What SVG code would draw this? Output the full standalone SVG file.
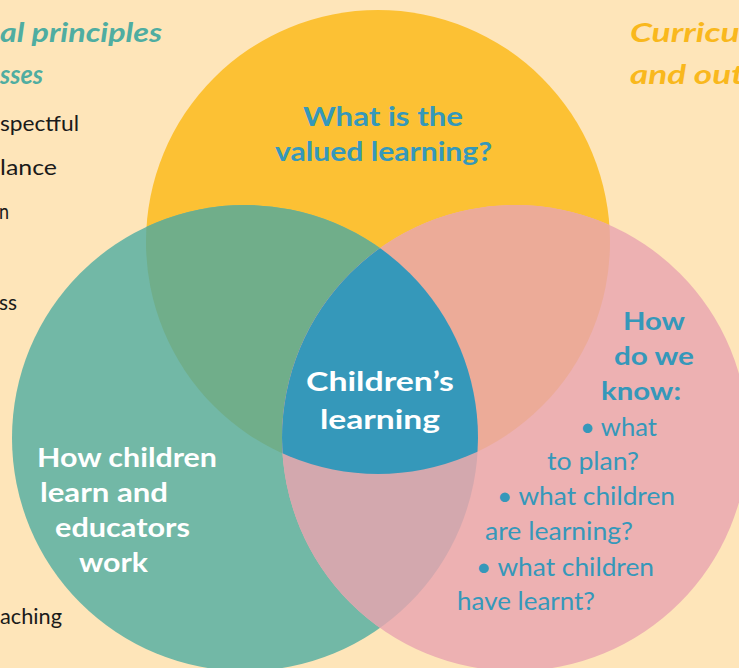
<svg xmlns="http://www.w3.org/2000/svg" width="739" height="668" viewBox="0 0 739 668">
<style>
text{font-family:Lato,"Open Sans","Liberation Sans",sans-serif}
.b{font-weight:700}
.w{fill:#ffffff}
.t{fill:#3598ba}
.k{fill:#1a1a1a;font-size:21px}
.hl{fill:#4fada1;font-style:italic;font-weight:700;font-size:27px}
.hr{fill:#f9b81d;font-style:italic;font-weight:700;font-size:27px}
</style>
<defs>
<clipPath id="cy"><circle cx="378" cy="242" r="232"/></clipPath>
<clipPath id="ct"><circle cx="245" cy="438" r="233"/></clipPath>
</defs>
<rect width="739" height="668" fill="#fee5b9"/>
<g id="side-text">
<text class="hl" x="0" y="42" textLength="162" lengthAdjust="spacingAndGlyphs">al principles</text>
<text class="hl" x="0" y="84" textLength="43" lengthAdjust="spacingAndGlyphs">sses</text>
<text class="k" x="0" y="131" textLength="79" lengthAdjust="spacingAndGlyphs">spectful</text>
<text class="k" x="0" y="175" textLength="57" lengthAdjust="spacingAndGlyphs">lance</text>
<text class="k" x="-1" y="219" textLength="10" lengthAdjust="spacingAndGlyphs">n</text>
<text class="k" x="-1" y="310" textLength="18" lengthAdjust="spacingAndGlyphs">ss</text>
<text class="k" x="0" y="624" textLength="62" lengthAdjust="spacingAndGlyphs">aching</text>
<text class="hr" x="630" y="42" textLength="118" lengthAdjust="spacingAndGlyphs">Curricul</text>
<text class="hr" x="630" y="84" textLength="114" lengthAdjust="spacingAndGlyphs">and out</text>
</g>
<g id="circle-yellow"><circle cx="378" cy="242" r="232" fill="#fcc134"/></g>
<g id="circle-teal"><circle cx="245" cy="438" r="233" fill="#72b8a6"/></g>
<g id="circle-pink"><circle cx="515" cy="438" r="233" fill="#edb1b2"/></g>
<g id="overlaps">
<circle cx="245" cy="438" r="233" fill="#70ae8a" clip-path="url(#cy)"/>
<circle cx="515" cy="438" r="233" fill="#ecab98" clip-path="url(#cy)"/>
<circle cx="515" cy="438" r="233" fill="#d3a8ae" clip-path="url(#ct)"/>
<g clip-path="url(#cy)"><circle cx="515" cy="438" r="233" fill="#3598ba" clip-path="url(#ct)"/></g>
</g>
<g id="label-yellow" font-size="26">
<text x="303" y="126" class="b t" textLength="160" lengthAdjust="spacingAndGlyphs">What is the</text>
<text x="275" y="161" class="b t" textLength="217" lengthAdjust="spacingAndGlyphs">valued learning?</text>
</g>
<g id="label-center" font-size="27">
<text x="306" y="391" class="b w" textLength="148" lengthAdjust="spacingAndGlyphs">Children’s</text>
<text x="320" y="429" class="b w" textLength="120" lengthAdjust="spacingAndGlyphs">learning</text>
</g>
<g id="label-teal" font-size="26">
<text x="37" y="467" class="b w" textLength="180" lengthAdjust="spacingAndGlyphs">How children</text>
<text x="40" y="502" class="b w" textLength="128" lengthAdjust="spacingAndGlyphs">learn and</text>
<text x="55" y="537" class="b w" textLength="135" lengthAdjust="spacingAndGlyphs">educators</text>
<text x="79" y="572" class="b w" textLength="69" lengthAdjust="spacingAndGlyphs">work</text>
</g>
<g id="label-pink" font-size="25">
<text x="623" y="330" class="b t" textLength="62" lengthAdjust="spacingAndGlyphs">How</text>
<text x="614" y="365" class="b t" textLength="80" lengthAdjust="spacingAndGlyphs">do we</text>
<text x="601" y="400" class="b t" textLength="80" lengthAdjust="spacingAndGlyphs">know:</text>
<text x="580" y="436" class="t" textLength="77" lengthAdjust="spacingAndGlyphs">• what</text>
<text x="547" y="470" class="t" textLength="92" lengthAdjust="spacingAndGlyphs">to plan?</text>
<text x="497" y="505" class="t" textLength="178" lengthAdjust="spacingAndGlyphs">• what children</text>
<text x="485" y="540" class="t" textLength="148" lengthAdjust="spacingAndGlyphs">are learning?</text>
<text x="476" y="576" class="t" textLength="178" lengthAdjust="spacingAndGlyphs">• what children</text>
<text x="457" y="610" class="t" textLength="138" lengthAdjust="spacingAndGlyphs">have learnt?</text>
</g>
</svg>
